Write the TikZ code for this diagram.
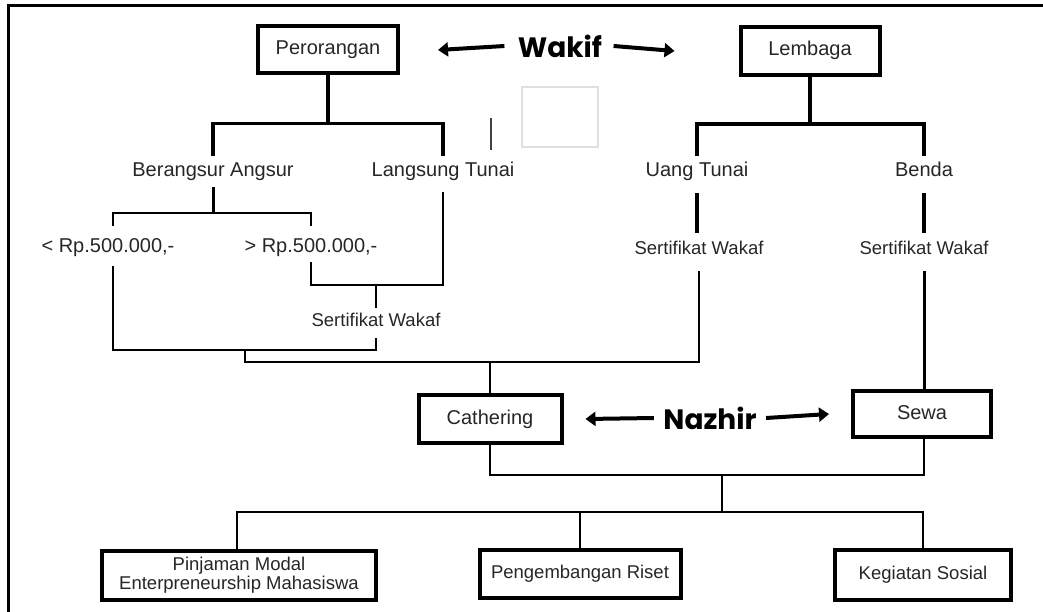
\documentclass[tikz,border=0pt]{standalone}
\usepackage{fontspec}
\setmainfont{Liberation Sans}
\newfontfamily\headfont{Poppins}
\usetikzlibrary{positioning,arrows.meta}

\begin{document}
\begin{tikzpicture}[x=1pt,y=-1pt,
    box/.style={draw, line width=4pt, minimum width=#1, inner sep=0pt, align=center},
    lbl/.style={text=black!85, font=\fontsize{20}{23}\selectfont, inner sep=2pt, text height=14pt, text depth=4pt},
    sml/.style={text=black!85, font=\fontsize{18.5}{22}\selectfont, inner sep=2pt, text height=13pt, text depth=4pt},
    head/.style={font=\headfont\bfseries\fontsize{28}{30}\selectfont},
    arr/.style={line width=4pt, -{Triangle[length=10pt,width=14pt]}},
    tk/.style={line width=3.5pt},
    thn/.style={line width=2pt}]
    \useasboundingbox (0,0) rectangle (1043,612);
    \draw[line width=3pt] (1043,6) -- (8,6) -- (8,612);
    % wakif
    \node[box=140pt, minimum height=47pt, lbl] (pero) at (328,50) {Perorangan};
    \node[box=139pt, minimum height=48pt, lbl] (lemb) at (810,51) {Lembaga};
    \node[head] (wakif) at (560,46) {Wakif};
    \draw[arr] ([xshift=-10pt]wakif.west) -- ([xshift=38pt]pero.east);
    \draw[arr] ([xshift=8pt]wakif.east) -- ([xshift=-64pt]lemb.west);
    \node[lbl] (bera) at (213,172) {Berangsur Angsur};
    \node[lbl] (lang) at (443,172) {Langsung Tunai};
    \node[lbl] (uang) at (697,172) {Uang Tunai};
    \node[lbl] (benda) at (924,172) {Benda};
    \node[lbl] (kurang) at (108,247) {< Rp.500.000,-};
    \node[lbl] (lebih) at (311,247) {> Rp.500.000,-};
    \node[sml] (sert1) at (376,322) {Sertifikat Wakaf};
    \node[sml] (sert2) at (699,250) {Sertifikat Wakaf};
    \node[sml] (sert3) at (924,250) {Sertifikat Wakaf};
    % nazhir
    \node[box=143pt, minimum height=48pt, lbl] (cath) at (490,419) {Cathering};
    \node[box=138pt, minimum height=46pt, lbl] (sewa) at (922,414) {Sewa};
    \node[head] (nazhir) at (710,418) {Nazhir};
    \draw[arr] ([xshift=-6pt]nazhir.west) -- ([xshift=22pt]cath.east);
    \draw[arr] ([xshift=6pt]nazhir.east) -- ([xshift=-22pt]sewa.west);
    \node[box=274pt, minimum height=49pt, sml, text height=, text depth=] (pinj) at (239,575) {Pinjaman Modal\\[-3pt]Enterpreneurship Mahasiswa};
    \node[box=201pt, minimum height=48pt, sml] (peng) at (580,574) {Pengembangan Riset};
    \node[box=176pt, minimum height=50pt, sml] (keg) at (923,575) {Kegiatan Sosial};
    % perorangan
    \draw[tk] (pero.south) -- ++(0,48) coordinate (pj);
    \draw[tk] ([yshift=5pt]bera.north) |- (pj) -| ([yshift=5pt]lang.north);
    \draw[tk, line width=3pt] ([yshift=-4pt]bera.south) -- ++(0,26) coordinate (bj);
    \draw[thn] ([xshift=5pt,yshift=10pt]kurang.north) |- (bj) -| ([yshift=10pt]lebih.north);
    \draw[thn, line width=2.5pt] ([yshift=-9pt]lang.south) |- (sert1.north |- 0,285) coordinate (lj);
    \draw[thn] ([yshift=-4pt]lebih.south) |- (lj) -- ([yshift=3pt]sert1.north);
    \draw[thn] ([xshift=5pt,yshift=-8pt]kurang.south) |- (sert1.south |- 245,350) coordinate (kj) -- ([yshift=-5pt]sert1.south);
    \draw[thn] (245,350) -- (245,362) -| ([yshift=-10pt]sert2.south);
    \draw[thn] (cath.north) -- (cath.north |- 0,362);
    % lembaga
    \draw[tk] (lemb.south) -- ++(0,47) coordinate (lj2);
    \draw[tk] ([yshift=5pt]uang.north) |- (lj2) -| ([yshift=5pt]benda.north);
    \draw[tk, shorten <=10pt, shorten >=6pt] (uang.south) -- (uang.south |- sert2.north);
    \draw[tk, shorten <=10pt, shorten >=6pt] (benda.south) -- (sert3.north);
    \draw[tk, line width=3pt] ([yshift=-10pt]sert3.south) -- (sewa.north -| sert3.south);
    % pemanfaatan
    \draw[thn] (cath.south) -- ++(0,30) -| ([xshift=2pt]sewa.south);
    \draw[thn] (722,475) -- (722,512) coordinate (nj);
    \draw[thn] ([xshift=-2pt]pinj.north) |- (nj) -| (keg.north);
    \draw[thn] (peng.north) -- (peng.north |- nj);
    % sisa
    \draw[line width=2pt, black!75] (491,118) -- (491,150);
    \draw[line width=1.5pt, black!12] (522,87) rectangle (598,147);
\end{tikzpicture}
\end{document}
